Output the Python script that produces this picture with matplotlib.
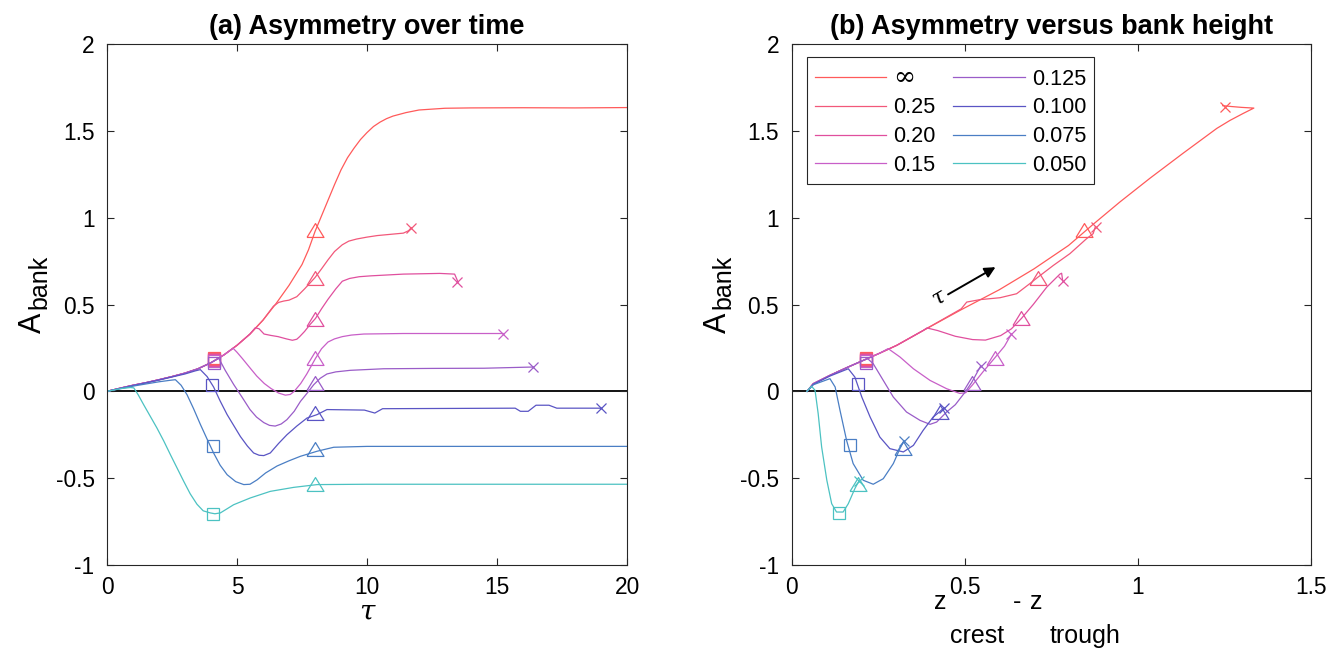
import numpy as np
import matplotlib
matplotlib.use('Agg')
import matplotlib.pyplot as plt

plt.rcParams['font.family'] = ['Liberation Sans', 'DejaVu Sans']
plt.rcParams['axes.unicode_minus'] = False

### Series
labels = ['∞', '0.25', '0.20', '0.15', '0.125', '0.100', '0.075', '0.050']
colors = ['#ff5a5a', '#f2587a', '#e04f9e', '#c85fc8',
          '#9a5cc8', '#5a55c4', '#4a7ec4', '#4cc2c2']

### (a) A_bank over tau
base_tau = [0, 0.5, 1, 1.5, 2, 2.5, 3, 3.5, 4, 4.5, 5, 5.5, 6, 6.5, 7, 7.5, 7.75, 8, 8.25,
            8.5, 8.75, 9, 9.25, 9.5, 9.75, 10, 10.25, 10.5, 10.75, 11, 11.5, 12, 13, 14, 16,
            18, 20]
base_A = [0, 0.018, 0.035, 0.05, 0.067, 0.085, 0.105, 0.13, 0.165, 0.21, 0.265, 0.33,
          0.41, 0.505, 0.61, 0.73, 0.815, 0.92, 1.01, 1.1, 1.19, 1.275, 1.345, 1.4, 1.45,
          1.49, 1.525, 1.55, 1.57, 1.585, 1.605, 1.62, 1.63, 1.632, 1.633, 1.632, 1.634]

tau_025 = [6.4, 6.6, 6.8, 7.0, 7.3, 7.6, 8.0, 8.25, 8.5, 8.75, 9.05, 9.3, 9.6, 10.0, 10.4,
           11.4, 11.6, 11.7]
A_025 = [0.49, 0.512, 0.52, 0.525, 0.545, 0.59, 0.655, 0.705, 0.757, 0.805, 0.844, 0.865,
         0.877, 0.888, 0.897, 0.911, 0.925, 0.942]

tau_020 = [5.7, 5.85, 6.04, 6.3, 6.58, 6.9, 7.13, 7.3, 7.41, 7.6, 7.8, 8.02, 8.25, 8.5,
           8.8, 9.05, 9.33, 9.7, 10.15, 11.4, 12.8, 13.37, 13.5]
A_020 = [0.366, 0.36, 0.33, 0.322, 0.315, 0.302, 0.294, 0.3, 0.315, 0.345, 0.383, 0.42,
         0.475, 0.53, 0.59, 0.634, 0.65, 0.66, 0.665, 0.675, 0.679, 0.675, 0.63]

tau_015 = [4.85, 5.0, 5.2, 5.5, 5.76, 6.05, 6.31, 6.6, 6.86, 7.05, 7.2, 7.45, 7.68, 8.02,
           8.25, 8.5, 8.75, 9.05, 9.4, 9.88, 11.4, 13.4, 15.23]
A_015 = [0.248, 0.225, 0.19, 0.135, 0.088, 0.045, 0.016, -0.01, -0.022, -0.018, 0.0, 0.045,
         0.099, 0.19, 0.245, 0.284, 0.302, 0.315, 0.324, 0.33, 0.333, 0.333, 0.333]

tau_0125 = [4.3, 4.55, 4.87, 5.2, 5.5, 5.75, 6.03, 6.25, 6.47, 6.7, 6.92, 7.2, 7.44, 7.7,
            7.95, 8.2, 8.46, 8.8, 9.36, 10.64, 12.5, 14.5, 16.39]
A_0125 = [0.19, 0.12, 0.04, -0.035, -0.105, -0.148, -0.18, -0.196, -0.2, -0.188, -0.163,
          -0.115, -0.058, -0.01, 0.038, 0.075, 0.1, 0.112, 0.121, 0.13, 0.132, 0.133, 0.14]

tau_0100 = [0, 1, 2, 3, 3.4, 3.59, 3.85, 4.1, 4.35, 4.62, 5.13, 5.4, 5.64, 5.85, 6.03, 6.28,
            6.6, 6.92, 7.3, 7.69, 8.08, 8.46, 9.9, 10.3, 10.6, 15.7, 15.9, 16.2, 16.5, 17.0,
            17.3, 19.0]
A_0100 = [0, 0.033, 0.065, 0.1, 0.118, 0.125, 0.085, 0.025, -0.055, -0.134, -0.26, -0.315,
          -0.355, -0.368, -0.37, -0.355, -0.3, -0.25, -0.2, -0.154, -0.134, -0.105, -0.108,
          -0.125, -0.1, -0.097, -0.115, -0.115, -0.08, -0.08, -0.097, -0.097]

tau_0075 = [0, 1, 2, 2.45, 2.63, 2.85, 3.08, 3.33, 3.59, 3.85, 4.1, 4.35, 4.62, 4.95, 5.26,
            5.5, 5.77, 6.1, 6.54, 7.0, 7.44, 8.08, 8.72, 10, 20]
A_0075 = [0, 0.03, 0.055, 0.064, 0.067, 0.035, -0.02, -0.1, -0.19, -0.275, -0.355, -0.425,
          -0.48, -0.52, -0.537, -0.535, -0.51, -0.47, -0.43, -0.4, -0.374, -0.345, -0.322,
          -0.317, -0.317]

tau_0050 = [0, 0.5, 0.9, 1.03, 1.2, 1.41, 1.65, 1.92, 2.18, 2.44, 2.7, 2.95, 3.2, 3.46,
            3.7, 3.97, 4.15, 4.36, 4.6, 4.87, 5.51, 6.28, 7.18, 8.08, 10, 20]
A_0050 = [0, 0.015, 0.022, 0.02, -0.02, -0.077, -0.14, -0.211, -0.285, -0.365, -0.443,
          -0.518, -0.59, -0.65, -0.688, -0.70, -0.705, -0.70, -0.678, -0.653, -0.614,
          -0.576, -0.553, -0.537, -0.535, -0.535]

left_sq_tau = [4.12, 4.12, 4.12, 4.12, 4.12, 4.05, 4.08, 4.08]
left_sq_A = [0.19, 0.185, 0.18, 0.172, 0.165, 0.037, -0.317, -0.704]
left_tri_tau = [8.0, 8.0, 8.0, 8.0, 8.0, 8.0, 8.0, 8.0]
left_tri_A = [0.93, 0.654, 0.418, 0.191, 0.047, -0.123, -0.333, -0.535]
left_x_tau = [np.nan, 11.7, 13.48, 15.23, 16.39, 19.0, np.nan, np.nan]
left_x_A = [np.nan, 0.942, 0.63, 0.333, 0.14, -0.097, np.nan, np.nan]

### (b) A_bank over bank height z_crest - z_trough
rbase_H = [0.045, 0.063, 0.111, 0.159, 0.207, 0.255, 0.304, 0.38, 0.49, 0.60, 0.70, 0.80,
           0.87, 0.948, 1.035, 1.13, 1.228, 1.266, 1.304, 1.335, 1.30, 1.27, 1.245]
rbase_A = [0, 0.044, 0.092, 0.136, 0.178, 0.22, 0.265, 0.35, 0.47, 0.585, 0.705, 0.84,
           0.96, 1.09, 1.227, 1.37, 1.514, 1.56, 1.60, 1.631, 1.635, 1.64, 1.645]

H_025 = [0.49, 0.506, 0.544, 0.602, 0.65, 0.688, 0.712, 0.756, 0.804, 0.852, 0.871, 0.877]
B_025 = [0.475, 0.514, 0.528, 0.539, 0.562, 0.62, 0.658, 0.725, 0.793, 0.879, 0.908, 0.946]

H_020 = [0.391, 0.422, 0.473, 0.523, 0.56, 0.604, 0.635, 0.664, 0.698, 0.737, 0.775, 0.78, 0.783]
B_020 = [0.365, 0.35, 0.317, 0.298, 0.295, 0.321, 0.36, 0.42, 0.5, 0.6, 0.675, 0.68, 0.637]

H_015 = [0.279, 0.313, 0.352, 0.4, 0.448, 0.486, 0.503, 0.523, 0.554, 0.588, 0.615, 0.635]
B_015 = [0.246, 0.198, 0.13, 0.063, 0.015, -0.012, -0.008, 0.038, 0.115, 0.195, 0.26, 0.33]

H_0125 = [0.22, 0.236, 0.265, 0.294, 0.332, 0.371, 0.40, 0.419, 0.448, 0.473, 0.503, 0.52, 0.546]
B_0125 = [0.188, 0.159, 0.063, -0.033, -0.119, -0.167, -0.19, -0.177, -0.119, -0.077, 0.0,
          0.05, 0.145]

H_0100 = [0.045, 0.063, 0.111, 0.164, 0.183, 0.203, 0.227, 0.255, 0.284, 0.323, 0.352,
          0.38, 0.409, 0.427, 0.44]
B_0100 = [0, 0.04, 0.088, 0.13, 0.082, -0.033, -0.148, -0.263, -0.33, -0.349, -0.311,
          -0.225, -0.148, -0.119, -0.095]

H_0075 = [0.045, 0.063, 0.111, 0.126, 0.14, 0.159, 0.178, 0.207, 0.236, 0.265, 0.294, 0.313, 0.325]
B_0075 = [0, 0.038, 0.073, 0.025, -0.109, -0.282, -0.416, -0.512, -0.535, -0.503, -0.416,
          -0.33, -0.285]

H_0050 = [0.044, 0.058, 0.068, 0.077, 0.087, 0.102, 0.116, 0.13, 0.149, 0.164, 0.183, 0.195]
B_0050 = [0.0, 0.029, 0.006, -0.128, -0.32, -0.512, -0.647, -0.695, -0.695, -0.647, -0.56, -0.515]

right_sq_H = [0.215, 0.215, 0.215, 0.215, 0.215, 0.193, 0.169, 0.138]
right_sq_A = [0.19, 0.185, 0.18, 0.172, 0.165, 0.045, -0.31, -0.70]
right_tri_H = [0.845, 0.712, 0.664, 0.588, 0.52, 0.43, 0.323, 0.193]
right_tri_A = [0.927, 0.655, 0.42, 0.193, 0.05, -0.117, -0.328, -0.532]
right_x_H = [1.252, 0.879, 0.783, 0.635, 0.546, 0.44, 0.325, 0.195]
right_x_A = [1.64, 0.946, 0.637, 0.33, 0.145, -0.095, -0.285, -0.515]


def join(bx, by, x, y):
    # shared early part of the run, then the branch where the bank takes over
    n = 0
    while n < len(bx) and bx[n] < x[0]:
        n += 1
    return list(bx[:n]) + x, list(by[:n]) + y


left_curves = [(base_tau, base_A),
               join(base_tau, base_A, tau_025, A_025),
               join(base_tau, base_A, tau_020, A_020),
               join(base_tau, base_A, tau_015, A_015),
               join(base_tau, base_A, tau_0125, A_0125),
               (tau_0100, A_0100), (tau_0075, A_0075), (tau_0050, A_0050)]

right_curves = [(rbase_H, rbase_A),
                join(rbase_H, rbase_A, H_025, B_025),
                join(rbase_H, rbase_A, H_020, B_020),
                join(rbase_H, rbase_A, H_015, B_015),
                join(rbase_H, rbase_A, H_0125, B_0125),
                (H_0100, B_0100), (H_0075, B_0075), (H_0050, B_0050)]

tri = [(-1, -0.82), (1, -0.82), (0, 0.82), (-1, -0.82)]

W, H = 1340, 654
fig = plt.figure(figsize=(W / 100, H / 100), dpi=100)
ax1 = fig.add_axes([107 / W, 1 - 565 / H, 520 / W, 521 / H])
ax2 = fig.add_axes([791.5 / W, 1 - 565 / H, 519.5 / W, 521 / H])


def ptext(px, py, s, fs, rot=0):
    # label piece placed in pixels from the top-left corner, baseline anchored
    fig.text(px / W, 1 - py / H, s, fontsize=fs, ha='left', va='baseline',
             rotation=rot, rotation_mode='anchor')


for ax, curves, sqx, sqy, trx, tryy, xx, xy in [
        (ax1, left_curves, left_sq_tau, left_sq_A, left_tri_tau, left_tri_A, left_x_tau, left_x_A),
        (ax2, right_curves, right_sq_H, right_sq_A, right_tri_H, right_tri_A, right_x_H, right_x_A)]:
    ax.axhline(0, color='k', lw=1.3, zorder=1)
    for i, (x, y) in enumerate(curves):
        c = colors[i]
        ax.plot(x, y, color=c, lw=0.9, label=labels[i], zorder=2)
        ax.plot(sqx[i], sqy[i], ls='none', marker='s', ms=8.5, mfc='none', mec=c, mew=0.9)
        ax.plot(trx[i], tryy[i], ls='none', marker=tri, ms=12.2, mfc='none', mec=c, mew=0.9)
        ax.plot(xx[i], xy[i], ls='none', marker='x', ms=7.7, mec=c, mew=0.9)
    ax.set_ylim(-1, 2)
    ax.set_yticks([-1, -0.5, 0, 0.5, 1, 1.5, 2])
    ax.set_yticklabels(['-1', '-0.5', '0', '0.5', '1', '1.5', '2'])
    ax.tick_params(direction='in', top=True, right=True, length=5, width=0.8,
                   labelsize=16.4, colors='#262626', labelcolor='black')
    ax.tick_params(axis='y', pad=9)
    ax.tick_params(axis='x', pad=8)
    for s in ax.spines.values():
        s.set_linewidth(0.8)
        s.set_color('#262626')

# y labels A_bank (subscript kept large, MATLAB-style)
for dx in [0, 684.5]:
    ptext(41 + dx, 333, 'A', 22, rot=90)
    ptext(46 + dx, 309, 'bank', 18, rot=90)

ax1.set_xlim(0, 20)
ax1.set_xticks([0, 5, 10, 15, 20])
ax1.set_xlabel('τ', fontsize=20, family='DejaVu Serif', style='italic', labelpad=0)
ax1.set_title('(a) Asymmetry over time', fontsize=19.5, fontweight='bold', pad=7)

ax2.set_xlim(0, 1.5)
ax2.set_xticks([0, 0.5, 1, 1.5])
ax2.set_xticklabels(['0', '0.5', '1', '1.5'])
ax2.set_title('(b) Asymmetry versus bank height', fontsize=19.5, fontweight='bold', pad=7)

# x label of (b): z_crest - z_trough with lowered subscripts
for s, px, py, fs in [('z', 934, 609, 18), ('crest', 950, 643, 18), ('-', 1013, 609, 18),
                      ('z', 1030, 609, 18), ('trough', 1050, 643, 18)]:
    ptext(px, py, s, fs)

ax2.annotate('', xy=(0.589, 0.715), xytext=(0.452, 0.558),
             arrowprops=dict(arrowstyle='-|>', color='k', lw=1.4, mutation_scale=16,
                             shrinkA=0, shrinkB=0))
ax2.text(0.424, 0.54, 'τ', fontsize=16, family='DejaVu Serif', style='italic',
         rotation=30, ha='center', va='center')

leg = ax2.legend(loc='upper left', bbox_to_anchor=(0.03, 0.975), borderaxespad=0,
                 ncol=2, fontsize=15.6, handlelength=3.3, handletextpad=0.33,
                 columnspacing=0.8, labelspacing=0.36, borderpad=0.35,
                 fancybox=False, framealpha=1, edgecolor='#262626')
leg.get_frame().set_linewidth(0.8)
leg.get_texts()[0].set_fontsize(19)
leg.get_texts()[0].set_family('DejaVu Serif')

fig.savefig('out.png', dpi=100)
plt.close(fig)
